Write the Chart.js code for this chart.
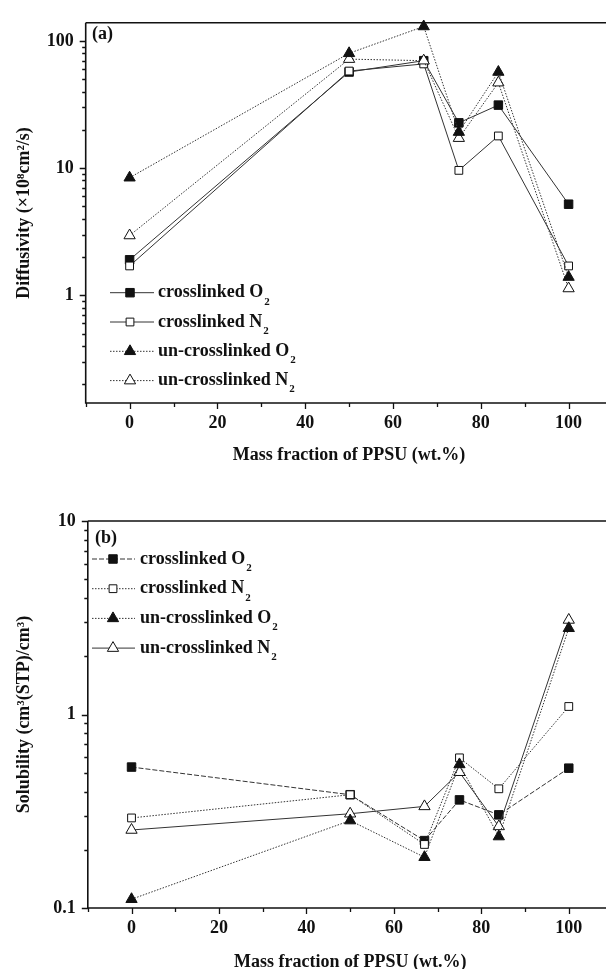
<!DOCTYPE html>
<html>
<head>
<meta charset="utf-8">
<script src="https://cdn.jsdelivr.net/npm/chart.js@4.4.0/dist/chart.umd.min.js"></script>
<style>
html, body { margin: 0; padding: 0; background: #fff; overflow: hidden; width: 606px; height: 969px; }
.box { position: absolute; left: 0; width: 620px; }
#boxA { top: 0; height: 480px; }
#boxB { top: 480px; height: 500px; }
</style>
</head>
<body>
<div class="box" id="boxA"><canvas id="diffChart"></canvas></div>
<div class="box" id="boxB"><canvas id="solChart"></canvas></div>
<script>
// mass fraction of PPSU (wt.%)
const massFraction = [0, 50, 67, 75, 84, 100];

// (a) diffusivity, x10^8 cm2/s
const diffCrossO2   = [1.9, 57, 70, 22.7, 31.3, 5.2];
const diffCrossN2   = [1.7, 58, 66, 9.6, 17.9, 1.7];
const diffUncrossO2 = [8.4, 80, 130, 19.2, 57, 1.39];
const diffUncrossN2 = [2.95, 72, 70, 17.2, 47, 1.13];

// (b) solubility, cm3(STP)/cm3
const solCrossO2   = [0.535, 0.385, 0.223, 0.362, 0.303, 0.528];
const solCrossN2   = [0.292, 0.385, 0.213, 0.597, 0.413, 1.10];
const solUncrossO2 = [0.111, 0.283, 0.183, 0.552, 0.234, 2.79];
const solUncrossN2 = [0.253, 0.307, 0.335, 0.503, 0.264, 3.08];

const seriesLabels = ['crosslinked O₂', 'crosslinked N₂', 'un-crosslinked O₂', 'un-crosslinked N₂'];
const xTicks = [0, 20, 40, 60, 80, 100];
const diffTicks = [1, 10, 100];
const solTicks = [0.1, 1, 10];

const ink = '#111';
const serif = '"Liberation Serif", "Times New Roman", serif';
const tickFont = { family: serif, weight: 'bold', size: 18 };
const titleFont = { family: serif, weight: 'bold', size: 18 };

const markers = [
  { style: 'rect', filled: true, r: 6 },
  { style: 'rect', filled: false, r: 5.5 },
  { style: 'triangle', filled: true, r: 6.5 },
  { style: 'triangle', filled: false, r: 6.5 }
];
const drawOrder = [4, 3, 1, 2];

function drawMarker(ctx, ds, x, y) {
  const r = ds.pointRadius;
  ctx.beginPath();
  if (ds.pointStyle === 'rect') {
    const s = r * Math.SQRT1_2;
    ctx.rect(x - s, y - s, 2 * s, 2 * s);
  } else {
    ctx.moveTo(x, y - r);
    ctx.lineTo(x + r * 0.866, y + r * 0.5);
    ctx.lineTo(x - r * 0.866, y + r * 0.5);
    ctx.closePath();
  }
  ctx.fillStyle = ds.pointBackgroundColor;
  ctx.fill();
  ctx.strokeStyle = ds.pointBorderColor;
  ctx.lineWidth = ds.pointBorderWidth;
  ctx.stroke();
}

// axis lines, top frame line and major/minor tick marks
const framePlugin = {
  id: 'frame',
  afterDraw(chart) {
    const { ctx, chartArea: a, scales: { x, y } } = chart;
    ctx.save();
    ctx.strokeStyle = ink;
    ctx.lineWidth = 1.6;
    ctx.beginPath();
    ctx.moveTo(a.left, a.top); ctx.lineTo(chart.width, a.top);
    ctx.moveTo(a.left, a.top); ctx.lineTo(a.left, a.bottom); ctx.lineTo(chart.width, a.bottom);
    ctx.stroke();
    ctx.lineWidth = 1.3;
    ctx.beginPath();
    for (let v = x.min; v <= x.max; v += 10) {
      const px = Math.round(x.getPixelForValue(v)) + 0.5;
      const len = v % 20 === 0 ? 6 : 4;
      ctx.moveTo(px, a.bottom); ctx.lineTo(px, a.bottom + len);
    }
    for (let e = Math.floor(Math.log10(y.min)); e <= Math.ceil(Math.log10(y.max)); e++) {
      for (let m = 1; m < 10; m++) {
        const v = m * Math.pow(10, e);
        if (v < y.min || v > y.max) continue;
        const py = Math.round(y.getPixelForValue(v)) + 0.5;
        const len = m === 1 ? 6 : 3.5;
        ctx.moveTo(a.left - len, py); ctx.lineTo(a.left, py);
      }
    }
    ctx.stroke();
    ctx.restore();
  }
};

// legend inside the plot, with subscripts
const legendPlugin = {
  id: 'inLegend',
  afterDraw(chart, args, o) {
    const ctx = chart.ctx;
    ctx.save();
    ctx.fillStyle = ink;
    ctx.textBaseline = 'middle';
    ctx.font = 'bold 18px ' + serif;
    ctx.fillText(o.panel, o.panelX, o.panelY);
    chart.data.datasets.forEach((ds, i) => {
      const yy = o.y0 + i * o.dy;
      ctx.strokeStyle = ds.borderColor;
      ctx.lineWidth = 1;
      ctx.setLineDash(ds.borderDash);
      ctx.beginPath();
      ctx.moveTo(o.x0, yy); ctx.lineTo(o.x1, yy);
      ctx.stroke();
      ctx.setLineDash([]);
      drawMarker(ctx, ds, o.xm, yy);
      const base = ds.label.slice(0, -1);
      ctx.fillStyle = ink;
      ctx.font = 'bold 18px ' + serif;
      ctx.fillText(base, o.xt, yy);
      const w = ctx.measureText(base).width;
      ctx.font = 'bold 11px ' + serif;
      ctx.fillText('2', o.xt + w + 1, yy + 9);
    });
    ctx.restore();
  }
};

function buildDatasets(series, dashes) {
  return series.map((vals, i) => ({
    label: seriesLabels[i],
    data: massFraction.map((m, j) => ({ x: m, y: vals[j] })),
    borderColor: '#333',
    borderWidth: 1,
    borderDash: dashes[i],
    pointStyle: markers[i].style,
    pointRadius: markers[i].r,
    pointBackgroundColor: markers[i].filled ? ink : '#fff',
    pointBorderColor: ink,
    pointBorderWidth: 1,
    fill: false,
    tension: 0,
    order: drawOrder[i],
    clip: false
  }));
}

function buildChart(id, series, dashes, yTitle, yMin, yMax, yTicks, lay, leg) {
  return new Chart(document.getElementById(id), {
    type: 'line',
    data: { datasets: buildDatasets(series, dashes) },
    options: {
      responsive: true,
      maintainAspectRatio: false,
      animation: false,
      layout: { padding: { top: lay.top, right: lay.right, left: 0, bottom: 0 } },
      scales: {
        x: {
          type: 'linear', min: -10, max: 110,
          afterBuildTicks: s => { s.ticks = xTicks.map(v => ({ value: v })); },
          afterFit: s => { s.height = lay.xHeight; },
          grid: { display: false, drawTicks: false },
          border: { display: false },
          ticks: { padding: lay.xPad, font: tickFont, color: ink, maxRotation: 0, autoSkip: false },
          title: { display: true, text: 'Mass fraction of PPSU (wt.%)', font: titleFont, color: ink,
                   padding: { top: 0, bottom: lay.xTitlePad } }
        },
        y: {
          type: 'logarithmic', min: yMin, max: yMax,
          afterBuildTicks: s => { s.ticks = yTicks.map(v => ({ value: v })); },
          afterFit: s => { s.width = lay.yWidth; },
          grid: { display: false, drawTicks: false },
          border: { display: false },
          ticks: { padding: 12, font: tickFont, color: ink, callback: v => String(v) },
          title: { display: true, text: yTitle, font: titleFont, color: ink,
                   padding: { top: 14, bottom: 0 } }
        }
      },
      plugins: {
        legend: { display: false },
        tooltip: { enabled: false },
        inLegend: leg
      }
    },
    plugins: [framePlugin, legendPlugin]
  });
}

buildChart('diffChart',
  [diffCrossO2, diffCrossN2, diffUncrossO2, diffUncrossN2],
  [[], [], [1.5, 1.5], [1.5, 1.5]],
  'Diffusivity (×10⁸cm²/s)', 0.142, 139, diffTicks,
  { top: 15, right: 3.8, yWidth: 85.7, xHeight: 77, xPad: 10, xTitlePad: 14 },
  { panel: '(a)', panelX: 92, panelY: 34, y0: 292.7, dy: 29.3, x0: 110, x1: 154, xm: 130, xt: 158 });

buildChart('solChart',
  [solCrossO2, solCrossN2, solUncrossO2, solUncrossN2],
  [[5, 2], [1.5, 1.5], [1.5, 1.5], []],
  'Solubility (cm³(STP)/cm³)', 0.1, 10, solTicks,
  { top: 41, right: 4, yWidth: 87.8, xHeight: 72, xPad: 10, xTitlePad: 7 },
  { panel: '(b)', panelX: 95, panelY: 58, y0: 79, dy: 29.7, x0: 92, x1: 135, xm: 113, xt: 140 });
</script>
</body>
</html>
